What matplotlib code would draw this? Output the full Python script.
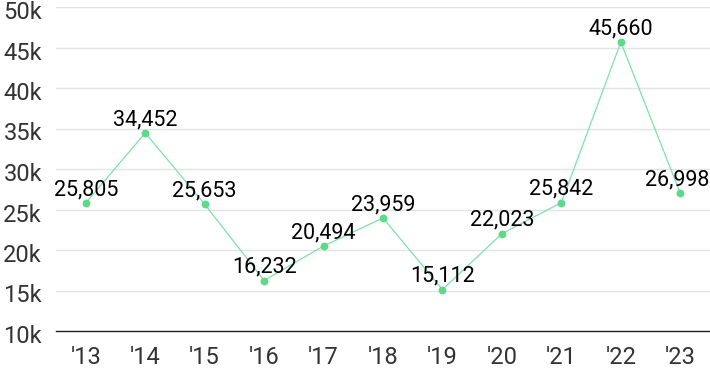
import matplotlib.pyplot as plt
import matplotlib.transforms as mtransforms
import numpy as np

# Values
years = ["'13", "'14", "'15", "'16", "'17", "'18", "'19", "'20", "'21", "'22", "'23"]
values = [25805, 34452, 25653, 16232, 20494, 23959, 15112, 22023, 25842, 45660, 26998]
y_ticks = [10000, 15000, 20000, 25000, 30000, 35000, 40000, 45000, 50000]
y_tick_labels = ["10k", "15k", "20k", "25k", "30k", "35k", "40k", "45k", "50k"]

plt.rcParams['font.family'] = ['Roboto', 'DejaVu Sans']

fig = plt.figure(figsize=(7.1, 3.71), dpi=100)
ax = fig.add_axes([56 / 710, 40 / 371, 654 / 710, 324 / 371])

x = np.arange(len(years))
ax.plot(x, values, color='#7ee3a4', linewidth=0.9, zorder=3)
ax.scatter(x, values, color='#5fd88c', s=32, zorder=4, linewidths=0)

for xi, v in zip(x, values):
    if xi == len(years) - 1:
        # last label is pushed left so it stays inside the chart
        ax.annotate(f"{v:,}", (xi, v), xytext=(21, 2), textcoords='offset points',
                    ha='right', va='bottom', fontsize=15.5, color='black', zorder=5)
    else:
        ax.annotate(f"{v:,}", (xi, v), xytext=(0, 2), textcoords='offset points',
                    ha='center', va='bottom', fontsize=15.5, color='black', zorder=5)

ax.set_xlim(-0.5, len(years) - 0.5)
ax.set_ylim(10000, 50000)
ax.set_xticks(x)
ax.set_xticklabels(years)
ax.set_yticks(y_ticks)
ax.set_yticklabels(y_tick_labels)
ax.tick_params(axis='both', length=0, labelsize=17, labelcolor='#333333')
ax.tick_params(axis='y', pad=10)
ax.tick_params(axis='x', pad=11)

# y labels sit a little below their gridlines
shift = mtransforms.ScaledTranslation(0, -3 / 100, fig.dpi_scale_trans)
for lab in ax.get_yticklabels():
    lab.set_transform(lab.get_transform() + shift)

ax.grid(axis='y', color='#e3e3e3', linewidth=1)
ax.set_axisbelow(True)
for side in ['left', 'right', 'top']:
    ax.spines[side].set_visible(False)
ax.spines['bottom'].set_color('#222222')
ax.spines['bottom'].set_linewidth(1)

fig.savefig("out.png", dpi=100)
